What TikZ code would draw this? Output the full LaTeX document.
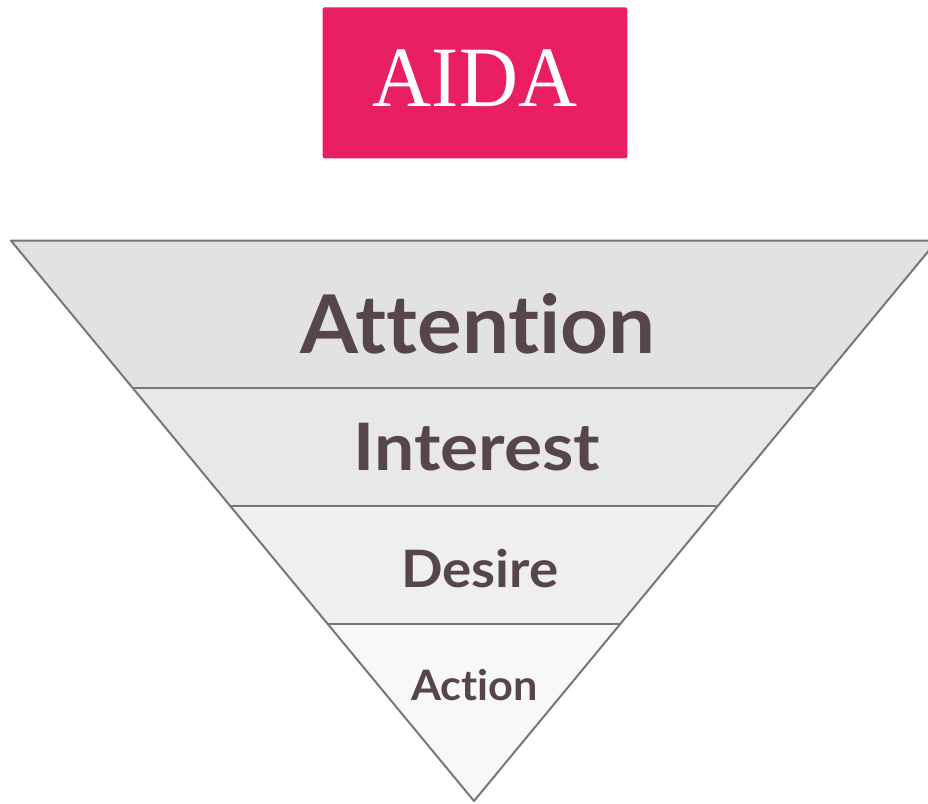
\documentclass[tikz,border=0pt]{standalone}
\usepackage{fontspec}
\usepackage{graphicx}
\newfontfamily\lblfont{Lato}[Ligatures=NoCommon]
\newfontfamily\titlefont{Liberation Serif}
\definecolor{aidapink}{HTML}{E91E63}
\definecolor{txtbrown}{HTML}{574649}
\definecolor{edgegray}{HTML}{777777}
\definecolor{layA}{HTML}{E2E2E2}
\definecolor{layB}{HTML}{E8E8E8}
\definecolor{layC}{HTML}{EFEFEF}
\definecolor{layD}{HTML}{F8F8F8}
\tikzset{
  layertext/.style={text=txtbrown, inner sep=0pt, anchor=base},
  layeredge/.style={draw=edgegray, line width=2pt, line join=round},
}
\begin{document}
\begin{tikzpicture}[x=1pt,y=-1pt]
\useasboundingbox (0,0) rectangle (928,803);
\fill[white] (0,0) rectangle (928,803);
\begin{scope}
\clip (0,0) rectangle (928,803);
% layers
\fill[layA] (11,240.7) -- (937,240.7) -- (815.5,387.7) -- (132.5,387.7) -- cycle;
\fill[layB] (132.5,387.7) -- (815.5,387.7) -- (717.8,506) -- (230.2,506) -- cycle;
\fill[layC] (230.2,506) -- (717.8,506) -- (620.2,624) -- (327.8,624) -- cycle;
\fill[layD] (327.8,624) -- (620.2,624) -- (474,801) -- cycle;
\draw[layeredge] (132.5,387.7) -- (815.5,387.7);
\draw[layeredge] (230.2,506) -- (717.8,506);
\draw[layeredge] (327.8,624) -- (620.2,624);
\draw[layeredge] (11,240.7) -- (937,240.7) -- (474,801) -- cycle;
\end{scope}
% title
\node[fill=aidapink, rounded corners=2pt, minimum width=304.6pt, minimum height=151pt, inner sep=0pt] (box) at (475,82.8) {};
\node[text=white, inner sep=0pt, anchor=base, font=\titlefont\fontsize{86}{86}\selectfont] (title) at (475,106) {\scalebox{0.95}[1]{AIDA}};
% labels
\node[layertext, font=\lblfont\bfseries\fontsize{81}{81}\selectfont] (attention) at (478,353) {\scalebox{1.03}[1]{Attention}};
\node[layertext, font=\lblfont\bfseries\fontsize{65.5}{65.5}\selectfont] (interest) at (477,470) {\scalebox{1.09}[1]{Interest}};
\node[layertext, font=\lblfont\bfseries\fontsize{51.6}{51.6}\selectfont] (desire) at (480,587) {\scalebox{1.06}[1]{Desire}};
\node[layertext, font=\lblfont\bfseries\fontsize{42}{42}\selectfont] (action) at (474.5,700) {\scalebox{1.03}[1]{Action}};
\end{tikzpicture}
\end{document}
